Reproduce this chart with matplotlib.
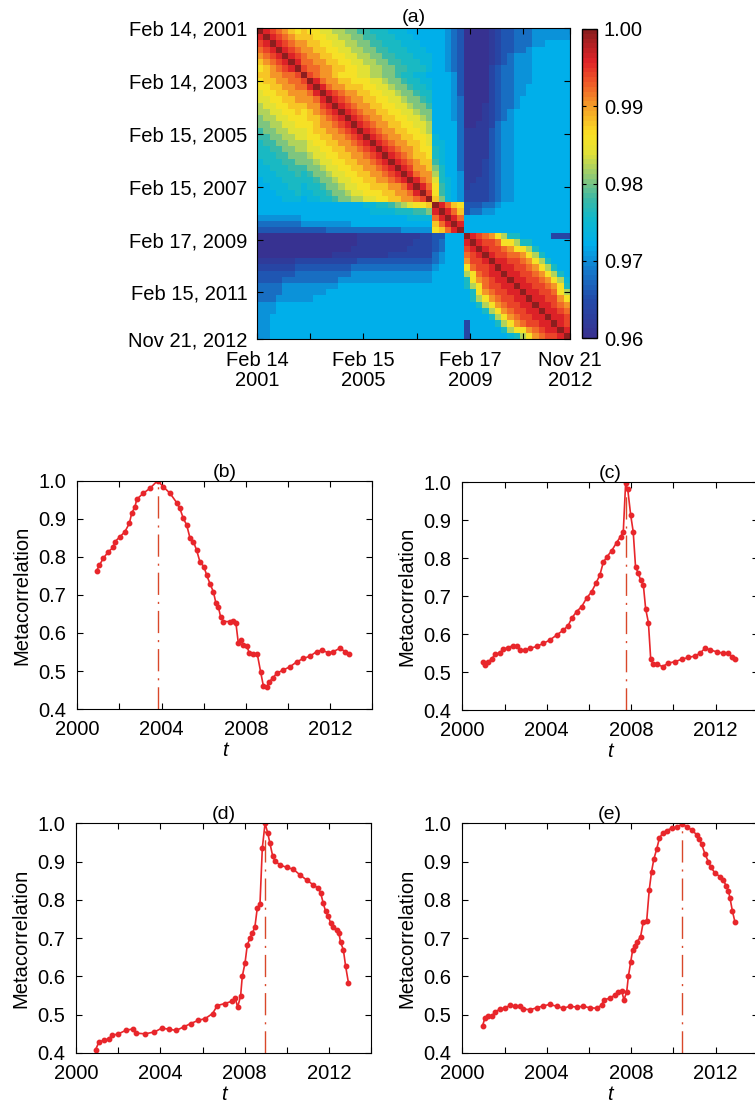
import numpy as np
import matplotlib
matplotlib.use("Agg")
import matplotlib.pyplot as plt
from matplotlib.colors import LinearSegmentedColormap

plt.rcParams['font.family'] = ['Liberation Sans', 'DejaVu Sans']
plt.rcParams['font.size'] = 14.5

# ---- panel (a): correlation matrix, lower triangle, one char per cell
# level code: value = 0.96 + 0.002 * index in LEVELS
LEVELS = "0123456789ABCDEFGHIJK"
corr_rows = [
    "K",
    "IK",
    "HIK",
    "GHIK",
    "FGHIK",
    "EFGHIK",
    "DEFGHIK",
    "EEFFGGH" + "K",
    "DEEFFGG" + "HK",
    "DDEEFFG" + "GIK",
    "CDDEEFF" + "FGIK",
    "CCDDEEF" + "FFGIK",
    "BCCDDEE" + "EFFHIK",
    "BBCCDDE" + "DEFGHIK",
    "ABBCCDD" + "DEEFGHIK",
    "AABBCCD" + "DDEFFGHIK",
    "9AABBCC" + "CDEEFFGHIK",
    "99AABBC" + "CDDEEFFGHIK",
    "899AABB" + "BCDDEEFFGHIK",
    "8899AAB" + "BCCDDEEFFGHIK",
    "88899AA" + "ABCCDDEEFFGHIK",
    "788899A" + "AABCCDDEEFFGHIK",
    "7788899" + "9AABCCDDEEFFGHIK",
    "7778889" + "89AABCCDDEEFFGHIK",
    "6777888" + "889AABCCDDEEFFGHIK",
    "6677788" + "7889AABCCDDEEEFFGIK",
    "6667778" + "77889AABCCDDDEEFFGIK",
    "6666777" + "677889AABBCCDDEEFFGHK",
    "6" * 17 + "77889ABCDDE" + "K",
    "6" * 18 + "777788899A" + "IK",
    "5" * 7 + "6" * 17 + "7777" + "GIK",
    "4" * 7 + "5" * 8 + "6" * 13 + "EGIK",
    "3" * 11 + "4" * 12 + "5" * 5 + "DEGIK",
    "0" * 16 + "1" * 10 + "22" + "33666" + "K",
    "0" * 16 + "1" * 9 + "222" + "34666" + "IK",
    "0" * 15 + "1" * 9 + "2222" + "34666" + "HIK",
    "0" * 12 + "1" * 9 + "2" * 7 + "45666" + "GHIK",
    "1" * 6 + "2" * 10 + "3" * 12 + "45666" + "FHHIK",
    "2" * 6 + "3" * 9 + "4" * 13 + "56666" + "DGHHIK",
    "3" * 6 + "4" * 9 + "5" * 13 + "66666" + "BDGHIIK",
    "3" * 4 + "4" * 9 + "5" * 15 + "66666" + "8DFGHIIK",
    "4" * 4 + "5" * 9 + "6" * 15 + "66666" + "8BDGHHIIK",
    "4" * 4 + "5" * 7 + "6" * 17 + "66666" + "68DFGHHIIK",
    "4" * 3 + "5" * 6 + "6" * 19 + "66666" + "68BDFGHHIIK",
    "5" * 3 + "6" * 25 + "66666" + "668BDFGHHIIK",
    "5" * 3 + "6" * 25 + "66666" + "6668BDFGHHIIK",
    "5" * 2 + "6" * 26 + "66666" + "66668BDFGHHIIK",
    "5" * 2 + "6" * 26 + "66666" + "26666" + "8BDFGHHIIK",
    "5" * 2 + "6" * 26 + "66666" + "266666" + "8BDDFGHIIK",
    "5" * 2 + "6" * 26 + "66666" + "2666666" + "78BDFGHHIK",
]

date_ticks = [2001.12, 2003.12, 2005.12, 2007.12, 2009.13, 2011.12, 2012.89]
ylabels_a = ["Feb 14, 2001", "Feb 14, 2003", "Feb 15, 2005", "Feb 15, 2007",
             "Feb 17, 2009", "Feb 15, 2011", "Nov 21, 2012"]
xlabels_a = ["Feb 14\n2001", "", "Feb 15\n2005", "", "Feb 17\n2009", "", "Nov 21\n2012"]

# colours of the printed colour bar, bottom to top
cbar_pos = [0.0, 0.12, 0.22, 0.30, 0.38, 0.45, 0.52, 0.60, 0.66, 0.75, 0.83, 0.90, 1.0]
cbar_rgb = [(55, 50, 145), (35, 75, 170), (20, 125, 205), (0, 175, 235), (15, 185, 205),
            (60, 185, 165), (140, 200, 120), (225, 225, 55), (250, 225, 35), (245, 160, 40),
            (240, 90, 40), (225, 35, 40), (140, 30, 30)]

# ---- panels (b)-(e): metacorrelation rows
t_b = [2000.92, 2001.05, 2001.23, 2001.47, 2001.71, 2001.79, 2002.03, 2002.26, 2002.47, 2002.58,
       2002.74, 2002.82, 2003.13, 2003.45, 2003.81, 2004.08, 2004.40, 2004.72, 2004.87, 2005.03,
       2005.19, 2005.35, 2005.51, 2005.66, 2005.82, 2006.01, 2006.14, 2006.30, 2006.46, 2006.58,
       2006.69, 2006.80, 2006.93, 2007.25, 2007.41, 2007.53, 2007.64, 2007.75, 2007.88, 2008.04,
       2008.16, 2008.35, 2008.54, 2008.70, 2008.83, 2008.99, 2009.11, 2009.27, 2009.46, 2009.78,
       2010.09, 2010.41, 2010.73, 2011.04, 2011.36, 2011.60, 2011.91, 2012.15, 2012.47, 2012.71,
       2012.91]
v_b = [0.764, 0.778, 0.796, 0.813, 0.825, 0.840, 0.853, 0.866, 0.888, 0.914,
       0.932, 0.951, 0.967, 0.980, 1.000, 0.984, 0.967, 0.942, 0.927, 0.901,
       0.884, 0.849, 0.840, 0.818, 0.787, 0.774, 0.752, 0.729, 0.708, 0.678,
       0.669, 0.643, 0.630, 0.630, 0.632, 0.625, 0.574, 0.581, 0.568, 0.566,
       0.548, 0.545, 0.545, 0.498, 0.461, 0.459, 0.472, 0.481, 0.494, 0.503,
       0.511, 0.524, 0.533, 0.539, 0.551, 0.555, 0.548, 0.551, 0.560, 0.551,
       0.546]

t_c = [2000.96, 2001.07, 2001.23, 2001.39, 2001.55, 2001.79, 2001.94, 2002.18, 2002.39, 2002.58,
       2002.73, 2002.97, 2003.21, 2003.52, 2003.84, 2004.15, 2004.47, 2004.79, 2005.02, 2005.18,
       2005.42, 2005.66, 2005.89, 2006.13, 2006.33, 2006.52, 2006.68, 2006.84, 2007.08, 2007.31,
       2007.50, 2007.63, 2007.74, 2007.84, 2007.98, 2008.10, 2008.21, 2008.34, 2008.45, 2008.58,
       2008.69, 2008.82, 2008.93, 2009.05, 2009.24, 2009.49, 2009.76, 2010.08, 2010.39, 2010.71,
       2011.03, 2011.26, 2011.50, 2011.74, 2012.05, 2012.37, 2012.61, 2012.76, 2012.92]
v_c = [0.528, 0.519, 0.528, 0.535, 0.547, 0.552, 0.561, 0.565, 0.570, 0.568,
       0.559, 0.559, 0.563, 0.568, 0.576, 0.585, 0.598, 0.611, 0.623, 0.642,
       0.660, 0.673, 0.695, 0.712, 0.734, 0.756, 0.789, 0.803, 0.820, 0.841,
       0.857, 0.870, 0.997, 0.982, 0.914, 0.870, 0.778, 0.761, 0.743, 0.730,
       0.667, 0.631, 0.534, 0.522, 0.521, 0.515, 0.524, 0.528, 0.534, 0.539,
       0.543, 0.550, 0.563, 0.559, 0.554, 0.550, 0.552, 0.541, 0.534]

t_d = [2000.93, 2001.09, 2001.32, 2001.55, 2001.71, 2002.01, 2002.35, 2002.70, 2002.85, 2003.27,
       2003.72, 2004.07, 2004.41, 2004.75, 2005.10, 2005.44, 2005.78, 2006.13, 2006.47, 2006.70,
       2007.04, 2007.38, 2007.55, 2007.66, 2007.80, 2007.88, 2008.01, 2008.12, 2008.25, 2008.36,
       2008.48, 2008.59, 2008.72, 2008.83, 2008.96, 2009.09, 2009.19, 2009.32, 2009.43, 2009.67,
       2009.98, 2010.30, 2010.62, 2010.93, 2011.25, 2011.49, 2011.60, 2011.72, 2011.83, 2011.96,
       2012.07, 2012.20, 2012.35, 2012.46, 2012.54, 2012.67, 2012.78, 2012.91]
v_d = [0.409, 0.429, 0.433, 0.437, 0.446, 0.450, 0.459, 0.463, 0.452, 0.450,
       0.455, 0.465, 0.462, 0.459, 0.468, 0.477, 0.485, 0.490, 0.503, 0.524,
       0.529, 0.535, 0.543, 0.520, 0.548, 0.600, 0.635, 0.683, 0.700, 0.713,
       0.730, 0.778, 0.790, 0.935, 1.000, 0.974, 0.948, 0.915, 0.902, 0.891,
       0.885, 0.880, 0.865, 0.852, 0.839, 0.830, 0.817, 0.791, 0.770, 0.757,
       0.739, 0.730, 0.722, 0.713, 0.689, 0.670, 0.626, 0.584]

t_e = [2000.96, 2001.07, 2001.23, 2001.39, 2001.55, 2001.79, 2002.02, 2002.26, 2002.50, 2002.73,
       2002.89, 2003.21, 2003.52, 2003.84, 2004.15, 2004.47, 2004.79, 2005.10, 2005.42, 2005.73,
       2006.05, 2006.37, 2006.60, 2006.71, 2007.00, 2007.24, 2007.39, 2007.55, 2007.66, 2007.79,
       2007.87, 2007.98, 2008.07, 2008.18, 2008.29, 2008.45, 2008.58, 2008.74, 2008.86, 2008.97,
       2009.08, 2009.21, 2009.34, 2009.49, 2009.68, 2009.92, 2010.16, 2010.43, 2010.63, 2010.87,
       2011.11, 2011.23, 2011.34, 2011.50, 2011.66, 2011.79, 2011.97, 2012.21, 2012.37, 2012.50,
       2012.61, 2012.69, 2012.80, 2012.92]
v_e = [0.471, 0.491, 0.497, 0.496, 0.507, 0.515, 0.517, 0.525, 0.522, 0.523,
       0.515, 0.513, 0.518, 0.523, 0.527, 0.522, 0.517, 0.522, 0.520, 0.522,
       0.518, 0.517, 0.525, 0.539, 0.543, 0.552, 0.559, 0.563, 0.539, 0.559,
       0.600, 0.637, 0.668, 0.680, 0.691, 0.704, 0.743, 0.746, 0.826, 0.874,
       0.907, 0.932, 0.961, 0.974, 0.981, 0.987, 0.991, 0.997, 0.991, 0.983,
       0.970, 0.958, 0.946, 0.920, 0.900, 0.885, 0.870, 0.861, 0.852, 0.837,
       0.824, 0.804, 0.771, 0.743]

peaks = [2003.81, 2007.74, 2008.96, 2010.43]
titles = ["(b)", "(c)", "(d)", "(e)"]

# build symmetric matrix
n = len(corr_rows)
M = np.zeros((n, n))
for i, row in enumerate(corr_rows):
    assert len(row) == i + 1, (i, len(row))
    for j, ch in enumerate(row):
        M[i, j] = M[j, i] = 0.96 + 0.002 * LEVELS.index(ch)

cmap = LinearSegmentedColormap.from_list(
    "printjet", [(p, np.array(c) / 255) for p, c in zip(cbar_pos, cbar_rgb)], N=64)

W, H = 755, 1108
fig = plt.figure(figsize=(W / 100, H / 100), dpi=100)

def box(x0, y0, x1, y1):
    return [x0 / W, 1 - y1 / H, (x1 - x0) / W, (y1 - y0) / H]

ax_a = fig.add_axes(box(257, 28, 570, 339))
im = ax_a.imshow(M, cmap=cmap, vmin=0.96, vmax=1.0,
                 extent=[date_ticks[0], date_ticks[-1], date_ticks[-1], date_ticks[0]],
                 aspect='auto', interpolation='nearest')
ax_a.set_yticks(date_ticks)
ax_a.set_yticklabels(ylabels_a)
ax_a.set_xticks(date_ticks)
ax_a.set_xticklabels(xlabels_a, linespacing=1.0)
ax_a.tick_params(direction='in', top=True, right=True, length=4, width=0.8)
ax_a.tick_params(axis='y', pad=7)
ax_a.tick_params(axis='x', pad=9)
ax_a.set_title("(a)", fontsize=14, pad=4)

cax = fig.add_axes(box(582, 29, 597, 338))
cb = fig.colorbar(im, cax=cax, ticks=[0.96, 0.97, 0.98, 0.99, 1.00])
cb.ax.yaxis.set_major_formatter('{x:.2f}')
cb.ax.tick_params(direction='in', length=3, left=True, right=True, pad=5)
cb.outline.set_linewidth(1)

boxes = [box(77.3, 480.7, 372.3, 709.1), box(462.3, 482.3, 757.7, 710.3),
         box(76, 823.3, 371.4, 1053), box(462.3, 823.3, 757.7, 1053)]
series = [(t_b, v_b), (t_c, v_c), (t_d, v_d), (t_e, v_e)]

for rect, (t, v), pk, ttl in zip(boxes, series, peaks, titles):
    ax = fig.add_axes(rect)
    ax.plot([pk, pk], [0.4, 1.0], color='#d9482a', lw=1, dashes=(16, 5, 1.5, 5))
    ax.plot(t, v, color='#e8262b', lw=1.2, marker='o', ms=3.2, mec='#e8262b')
    ax.set_xlim(2000, 2014)
    ax.set_ylim(0.4, 1.0)
    ax.set_xticks(range(2000, 2015, 2))
    ax.set_xticklabels(['2000', '', '2004', '', '2008', '', '2012', ''])
    ax.set_yticks([0.4, 0.5, 0.6, 0.7, 0.8, 0.9, 1.0])
    ax.set_yticklabels(['0.4', '0.5', '0.6', '0.7', '0.8', '0.9', '1.0'])
    ax.tick_params(direction='in', top=True, right=True, length=4, width=0.8)
    ax.tick_params(axis='y', pad=8)
    ax.tick_params(axis='x', pad=8)
    ax.set_xlabel('t', style='italic', labelpad=1)
    ax.set_ylabel('Metacorrelation', labelpad=5)
    ax.set_title(ttl, fontsize=14, pad=3)

fig.savefig("out.png", dpi=100)
